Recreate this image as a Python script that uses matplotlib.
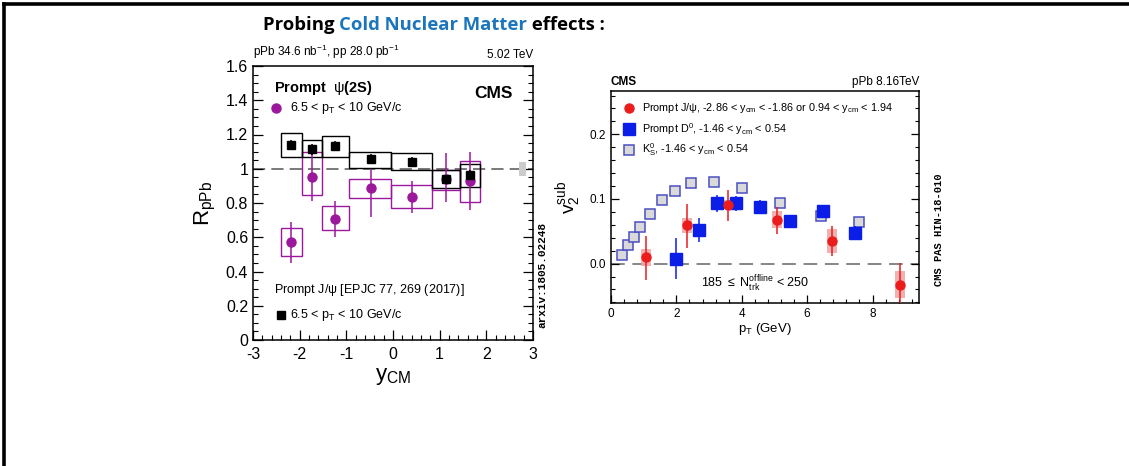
import matplotlib
matplotlib.use('Agg')
import matplotlib.pyplot as plt
from matplotlib.patches import Rectangle
from matplotlib.lines import Line2D
from matplotlib.ticker import MultipleLocator

plt.rcParams['font.family'] = ['Liberation Sans', 'DejaVu Sans']
plt.rcParams['mathtext.fontset'] = 'custom'
plt.rcParams['mathtext.rm'] = 'Liberation Sans'
plt.rcParams['mathtext.it'] = 'Liberation Sans'
plt.rcParams['mathtext.bf'] = 'Liberation Sans:bold'
plt.rcParams['axes.unicode_minus'] = False

# ---- left panel: R_pPb vs y_CM ----
bin_lo = [-2.41, -1.95, -1.52, -0.94, -0.05, 0.84, 1.43]
bin_hi = [-1.95, -1.52, -0.94, -0.05, 0.84, 1.43, 1.86]
y_pts = [-2.18, -1.73, -1.24, -0.48, 0.41, 1.14, 1.64]

jpsi_r = [1.139, 1.113, 1.133, 1.055, 1.041, 0.938, 0.963]
jpsi_stat = [0.03, 0.03, 0.03, 0.03, 0.025, 0.025, 0.03]
jpsi_sys_lo = [1.067, 1.067, 1.07, 1.006, 0.993, 0.886, 0.895]
jpsi_sys_hi = [1.21, 1.17, 1.19, 1.10, 1.09, 0.993, 1.03]

psi2s_r = [0.574, 0.954, 0.707, 0.886, 0.837, 0.94, 0.93]
psi2s_stat_lo = [0.45, 0.81, 0.60, 0.72, 0.74, 0.808, 0.76]
psi2s_stat_hi = [0.69, 1.12, 0.81, 0.99, 0.93, 1.094, 1.10]
psi2s_sys_lo = [0.49, 0.847, 0.64, 0.827, 0.77, 0.876, 0.808]
psi2s_sys_hi = [0.656, 1.10, 0.78, 0.94, 0.905, 0.99, 1.047]

glob_unc = 0.04

# ---- right panel: v2sub vs pT ----
ks_pt = [0.34, 0.53, 0.70, 0.90, 1.19, 1.57, 1.97, 2.46, 3.14, 4.02, 5.16, 6.42, 7.60]
ks_v2 = [0.013, 0.028, 0.041, 0.056, 0.077, 0.098, 0.113, 0.124, 0.126, 0.117, 0.094, 0.074, 0.064]

d0_pt = [1.98, 2.70, 3.24, 3.81, 4.57, 5.46, 6.47, 7.45]
d0_v2 = [0.0077, 0.052, 0.093, 0.093, 0.088, 0.066, 0.081, 0.048]
d0_stat = [0.032, 0.018, 0.013, 0.012, 0.010, 0.008, 0.010, 0.010]
d0_sys = [0.004, 0.006, 0.010, 0.010, 0.009, 0.006, 0.010, 0.006]

jp_pt = [1.07, 2.33, 3.59, 5.08, 6.77, 8.84]
jp_v2 = [0.010, 0.059, 0.091, 0.068, 0.035, -0.033]
jp_stat_lo = [-0.026, 0.024, 0.066, 0.046, 0.012, -0.065]
jp_stat_hi = [0.043, 0.092, 0.114, 0.088, 0.058, 0.001]
jp_sys = [0.013, 0.012, 0.007, 0.013, 0.018, 0.021]

fig = plt.figure(figsize=(11.29, 4.66), dpi=100)
fig.patch.set_facecolor('white')

# slide border
fig.add_artist(Line2D([4/1129, 1], [1-4/466, 1-4/466], color='black', lw=2.6,
                      transform=fig.transFigure))
fig.add_artist(Line2D([4/1129, 4/1129], [0, 1-4/466], color='black', lw=2.6,
                      transform=fig.transFigure))

# title made of coloured pieces
renderer = fig.canvas.get_renderer()
xpos = 263 / 1129
for txt, col in [('Probing ', 'black'), ('Cold Nuclear Matter', '#1b75bc'), (' effects :', 'black')]:
    t = fig.text(xpos, 1 - 25/466, txt, color=col, fontsize=13.3, fontweight='bold',
                 family=['Open Sans', 'DejaVu Sans'], va='center', ha='left')
    bb = t.get_window_extent(renderer=renderer)
    xpos += bb.width / fig.bbox.width


def root_style(ax):
    ax.tick_params(which='both', direction='in', top=False, right=True)
    ax.tick_params(which='major', length=7, width=0.9)
    ax.tick_params(which='minor', length=3.5, width=0.8)
    for s in ax.spines.values():
        s.set_linewidth(1.1)


# ---------------- left ----------------
ax1 = fig.add_axes([253/1129, 1-340/466, 280/1129, 274/466])
ax1.set_xlim(-3, 3)
ax1.set_ylim(0, 1.6)
root_style(ax1)
ax1.xaxis.set_major_locator(MultipleLocator(1))
ax1.xaxis.set_minor_locator(MultipleLocator(0.2))
ax1.yaxis.set_major_locator(MultipleLocator(0.2))
ax1.yaxis.set_minor_locator(MultipleLocator(0.05))
ax1.set_yticks([0, 0.2, 0.4, 0.6, 0.8, 1, 1.2, 1.4, 1.6])
ax1.set_yticklabels(['0', '0.2', '0.4', '0.6', '0.8', '1', '1.2', '1.4', '1.6'])
ax1.tick_params(labelsize=11.5)
ax1.tick_params(axis='x', pad=5)

ax1.axhline(1, color='#555555', lw=1.1, dashes=(8, 4), zorder=1)
ax1.add_patch(Rectangle((2.7, 1 - glob_unc), 0.15, 2*glob_unc, facecolor='#cccccc',
                        edgecolor='none', zorder=2))

purple = '#9b179b'
for lo, hi, s0, s1 in zip(bin_lo, bin_hi, psi2s_sys_lo, psi2s_sys_hi):
    ax1.add_patch(Rectangle((lo, s0), hi - lo, s1 - s0, fill=False, edgecolor=purple,
                            lw=1.0, zorder=3))
for lo, hi, s0, s1 in zip(bin_lo, bin_hi, jpsi_sys_lo, jpsi_sys_hi):
    ax1.add_patch(Rectangle((lo, s0), hi - lo, s1 - s0, fill=False, edgecolor='black',
                            lw=1.0, zorder=4))
perr = [[v - l for v, l in zip(psi2s_r, psi2s_stat_lo)],
        [h - v for v, h in zip(psi2s_r, psi2s_stat_hi)]]
ax1.errorbar(y_pts, psi2s_r, yerr=perr, fmt='o', color=purple, ms=6.5, lw=1.1,
             capsize=0, zorder=5)
ax1.errorbar(y_pts, jpsi_r, yerr=jpsi_stat, fmt='s', color='black', ms=6, lw=1.1,
             capsize=0, zorder=6)

ax1.text(0, 1.02, 'pPb 34.6 nb$^{-1}$, pp 28.0 pb$^{-1}$', transform=ax1.transAxes,
         fontsize=8.5, ha='left', va='bottom')
ax1.text(1, 1.02, '5.02 TeV', transform=ax1.transAxes, fontsize=8.5, ha='right', va='bottom')
ax1.text(-2.54, 1.47, r'Prompt  $\psi$(2S)', fontsize=10.5, fontweight='bold',
         ha='left', va='center', family=['Liberation Sans', 'DejaVu Sans'])
ax1.text(2.56, 1.44, 'CMS', fontsize=12.5, fontweight='bold', ha='right', va='center')
ax1.plot([-2.5], [1.353], 'o', color=purple, ms=6.5)
ax1.text(-2.21, 1.353, r'6.5 < p$_{\mathrm{T}}$ < 10 GeV/c', fontsize=9, ha='left', va='center')
ax1.text(-2.54, 0.292, r'Prompt J/$\psi$ [EPJC 77, 269 (2017)]', fontsize=9,
         ha='left', va='center')
ax1.plot([-2.39], [0.146], 's', color='black', ms=6)
ax1.text(-2.21, 0.146, r'6.5 < p$_{\mathrm{T}}$ < 10 GeV/c', fontsize=9, ha='left', va='center')

ax1.set_ylabel(r'R$_{\mathrm{pPb}}$', fontsize=16)
ax1.yaxis.set_label_coords(-0.125, 0.50)
ax1.set_xlabel(r'y$_{\mathrm{CM}}$', fontsize=16)
ax1.xaxis.set_label_coords(0.5, -0.095)
fig.text(542/1129, 1-275/466, 'arxiv:1805.02248', rotation=90, fontsize=8,
         fontweight='bold', family=['Liberation Mono', 'DejaVu Sans Mono'],
         ha='center', va='center')

# ---------------- right ----------------
ax2 = fig.add_axes([611/1129, 1-303/466, 308/1129, 212/466])
ax2.set_xlim(0, 9.42)
ax2.set_ylim(-0.061, 0.267)
root_style(ax2)
ax2.xaxis.set_major_locator(MultipleLocator(2))
ax2.xaxis.set_minor_locator(MultipleLocator(0.4))
ax2.yaxis.set_major_locator(MultipleLocator(0.1))
ax2.yaxis.set_minor_locator(MultipleLocator(0.02))
ax2.set_yticks([0.0, 0.1, 0.2])
ax2.set_yticklabels(['0.0', '0.1', '0.2'])
ax2.tick_params(labelsize=8.5)
ax2.tick_params(which='major', length=6)
ax2.tick_params(which='minor', length=3)

ax2.axhline(0, color='#666666', lw=1.1, dashes=(9, 5), zorder=1)

ax2.plot(ks_pt, ks_v2, 's', ms=6.5, mfc='#d9d9d9', mec='#4b4fc4', mew=1.1,
         ls='none', zorder=3)

for x, v, s in zip(d0_pt, d0_v2, d0_sys):
    ax2.add_patch(Rectangle((x - 0.15, v - s), 0.3, 2*s, facecolor='#b9c3dd',
                            edgecolor='none', alpha=0.9, zorder=2))
ax2.errorbar(d0_pt, d0_v2, yerr=d0_stat, fmt='s', color='#0a1ee8', ms=8.5, lw=1.1,
             capsize=0, zorder=5)

for x, v, s in zip(jp_pt, jp_v2, jp_sys):
    ax2.add_patch(Rectangle((x - 0.15, v - s), 0.3, 2*s, facecolor='#f2a3a3',
                            edgecolor='none', alpha=0.85, zorder=4))
jerr = [[v - l for v, l in zip(jp_v2, jp_stat_lo)],
        [h - v for v, h in zip(jp_v2, jp_stat_hi)]]
ax2.errorbar(jp_pt, jp_v2, yerr=jerr, fmt='o', color='#ea1c1c', ms=6.5, lw=1.1,
             capsize=0, zorder=6, clip_on=True)

ax2.plot([0.54], [0.240], 'o', color='#ea1c1c', ms=6.5)
ax2.text(0.95, 0.240, r'Prompt J/$\psi$, -2.86 < y$_{\mathrm{cm}}$ < -1.86 or 0.94 < y$_{\mathrm{cm}}$ < 1.94',
         fontsize=7.8, ha='left', va='center')
ax2.plot([0.54], [0.208], 's', color='#0a1ee8', ms=8.5)
ax2.text(0.95, 0.208, r'Prompt D$^{0}$, -1.46 < y$_{\mathrm{cm}}$ < 0.54',
         fontsize=7.8, ha='left', va='center')
ax2.plot([0.54], [0.176], 's', ms=6.5, mfc='#d9d9d9', mec='#4b4fc4', mew=1.1)
ax2.text(0.95, 0.176, r'K$^{0}_{\mathrm{S}}$, -1.46 < y$_{\mathrm{cm}}$ < 0.54',
         fontsize=7.8, ha='left', va='center')
ax2.text(4.41, -0.032, r'185 $\leq$ N$_{\mathrm{trk}}^{\mathrm{offline}}$ < 250',
         fontsize=9, ha='center', va='center')

ax2.text(0, 1.015, 'CMS', transform=ax2.transAxes, fontsize=8.5, fontweight='bold',
         ha='left', va='bottom')
ax2.text(1, 1.015, 'pPb 8.16TeV', transform=ax2.transAxes, fontsize=8.5,
         ha='right', va='bottom')
ax2.set_ylabel(r'v$_{2}^{\mathrm{sub}}$', fontsize=14)
ax2.yaxis.set_label_coords(-0.09, 0.50)
ax2.set_xlabel(r'p$_{\mathrm{T}}$ (GeV)', fontsize=9.5)
ax2.xaxis.set_label_coords(0.5, -0.085)
fig.text(939/1129, 1-230/466, 'CMS PAS HIN-18-010', rotation=90, fontsize=7.5,
         fontweight='bold', family=['Liberation Mono', 'DejaVu Sans Mono'],
         ha='center', va='center')

fig.savefig('out.png', dpi=100)
